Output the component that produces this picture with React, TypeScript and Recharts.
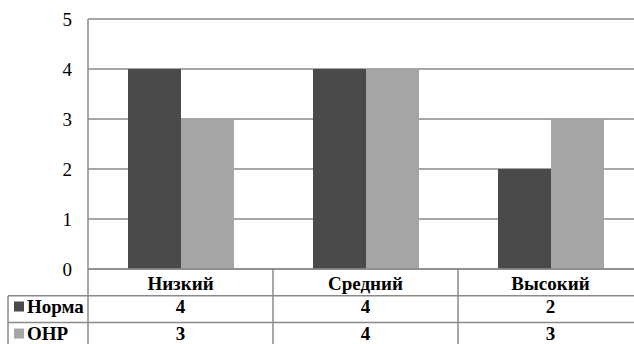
import { Bar, BarChart, CartesianGrid, XAxis, YAxis } from 'recharts'

const categories = ['Низкий', 'Средний', 'Высокий']
const normaValues = [4, 4, 2]
const onrValues = [3, 4, 3]
const seriesNames = ['Норма', 'ОНР']
const yTicks = [0, 1, 2, 3, 4, 5]

const COLORS = ['#4a4a4a', '#a5a5a5']
const FONT = 'Times New Roman'
const LINE = '#8a8a8a'

const CHART_W = 643
const CHART_H = 352
const Y_AXIS_W = 88
const TOP = 19
const ROW = 26.75
const TABLE_H = 83
const LEGEND_LEFT = 8
const BAND = (CHART_W - Y_AXIS_W) / categories.length
// text centre of each table row, measured from the axis line
const ROW_TEXT = [14, 37.5, 64.5]

const data = categories.map((name, i) => ({ name, norma: normaValues[i], onr: onrValues[i] }))

// x-axis tick draws one column of the data table (and the legend column for the first one)
function TableTick(props: any) {
  const { x, y, payload } = props
  const i = payload?.index ?? props.index ?? 0
  const rows = [normaValues, onrValues]
  const left = x - BAND / 2
  const right = x + BAND / 2
  const txt = { fontFamily: FONT, fontWeight: 700, fontSize: 19, fill: '#000', dominantBaseline: 'central' as const }
  return (
    <g>
      <text x={x} y={y + ROW_TEXT[0]} textAnchor="middle" {...txt}>
        {payload.value}
      </text>
      {rows.map((vals, r) => (
        <text key={r} x={x} y={y + ROW_TEXT[r + 1]} textAnchor="middle" {...txt}>
          {vals[i]}
        </text>
      ))}
      <line x1={right} x2={right} y1={y} y2={y + 3 * ROW} stroke={LINE} strokeWidth={1.5} />
      {i === 0 && (
        <g>
          <line x1={left} x2={left} y1={y} y2={y + 3 * ROW} stroke={LINE} strokeWidth={1.5} />
          <line x1={LEGEND_LEFT} x2={LEGEND_LEFT} y1={y + ROW} y2={y + 3 * ROW} stroke={LINE} strokeWidth={1.5} />
          {[1, 2].map((r) => (
            <line key={r} x1={LEGEND_LEFT} x2={CHART_W} y1={y + ROW * r} y2={y + ROW * r} stroke={LINE} strokeWidth={1.5} />
          ))}
          {seriesNames.map((name, r) => (
            <g key={name}>
              <rect x={14} y={y + ROW_TEXT[r + 1] - 5} width={10} height={10} fill={COLORS[r]} />
              <text x={27} y={y + ROW_TEXT[r + 1]} textAnchor="start" {...txt}>
                {name}
              </text>
            </g>
          ))}
        </g>
      )}
    </g>
  )
}

export default function App() {
  return (
    <div style={{ position: 'absolute', left: 0, top: 0, width: 634, height: 344, overflow: 'hidden', background: '#fff' }}>
      <BarChart
        width={CHART_W}
        height={CHART_H}
        data={data}
        margin={{ top: TOP, right: 0, bottom: 0, left: 0 }}
        barCategoryGap={40}
        barGap={0}
      >
        <CartesianGrid vertical={false} stroke={LINE} strokeWidth={1.5} />
        <XAxis
          dataKey="name"
          height={TABLE_H}
          tickLine={false}
          tickSize={0}
          tickMargin={0}
          axisLine={{ stroke: LINE, strokeWidth: 1.5 }}
          tick={<TableTick />}
          interval={0}
        />
        <YAxis
          width={Y_AXIS_W}
          domain={[0, 5]}
          ticks={yTicks}
          tickLine={false}
          tickMargin={10}
          axisLine={{ stroke: LINE, strokeWidth: 1.5 }}
          tick={{ fontSize: 19, fill: '#000', fontFamily: FONT }}
        />
        <Bar dataKey="norma" name={seriesNames[0]} fill={COLORS[0]} isAnimationActive={false} />
        <Bar dataKey="onr" name={seriesNames[1]} fill={COLORS[1]} isAnimationActive={false} />
      </BarChart>
    </div>
  )
}
